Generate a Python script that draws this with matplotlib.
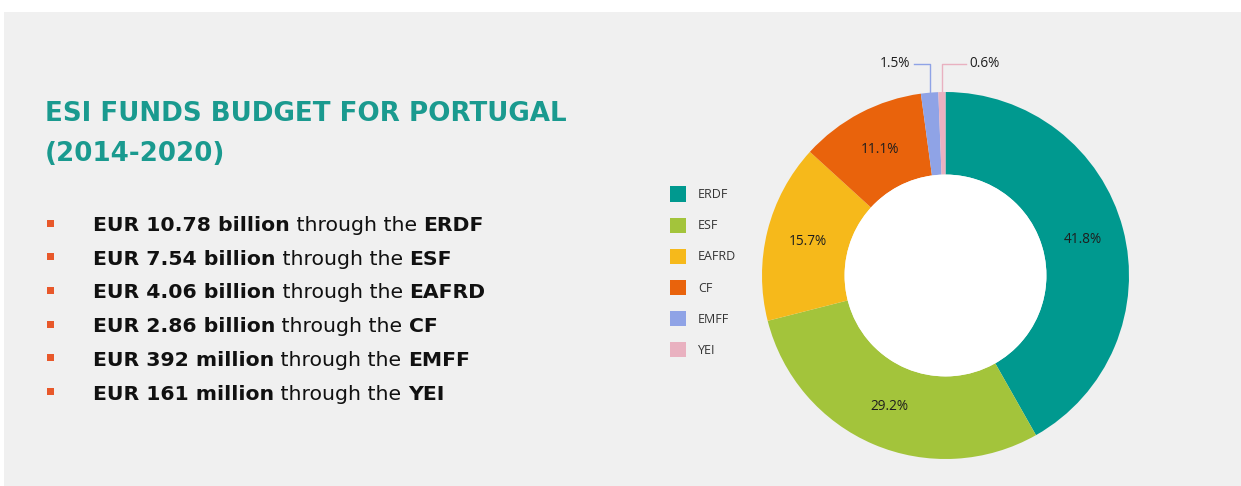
import numpy as np
import matplotlib
matplotlib.use("Agg")
from matplotlib import pyplot as plt
from matplotlib.patches import Rectangle, Circle

# data
funds = ["ERDF", "ESF", "EAFRD", "CF", "EMFF", "YEI"]
amounts = [10.78, 7.54, 4.06, 2.86, 0.392, 0.161]   # EUR billion
amount_text = ["EUR 10.78 billion", "EUR 7.54 billion", "EUR 4.06 billion",
               "EUR 2.86 billion", "EUR 392 million", "EUR 161 million"]
title_lines = ["ESI FUNDS BUDGET FOR PORTUGAL", "(2014-2020)"]

colors = ["#00998f", "#a3c43b", "#f6b91b", "#e9630c", "#8fa3e6", "#e9b1c0"]
teal = "#1a9a8f"
bullet_col = "#e8582a"

W, H = 1241, 486
fig = plt.figure(figsize=(W / 100, H / 100), dpi=100)
fig.patch.set_facecolor("white")

# full figure axes in pixel units for the text block
bg = fig.add_axes([0, 0, 1, 1])
bg.set_xlim(0, W)
bg.set_ylim(H, 0)
bg.axis("off")
bg.add_patch(Rectangle((4, 12), W - 4, H - 12, facecolor="#f0f0f0", edgecolor="none"))

for i, line in enumerate(title_lines):
    bg.text(45, 121 + i * 39.5, line, color=teal, fontsize=18.8, fontweight="bold",
            family="DejaVu Sans", va="baseline", ha="left")

base0 = 231
step = 33.7
for i in range(len(funds)):
    yb = base0 + i * step
    bg.add_patch(Rectangle((46.5, yb - 11.5), 7, 7, facecolor=bullet_col, edgecolor="none"))
    t1 = bg.text(93, yb, amount_text[i], fontsize=14.7, fontweight="bold",
                 family="DejaVu Sans", color="#111111", va="baseline")
    t2 = bg.annotate(" through the ", xy=(1, 0), xycoords=t1, fontsize=14.7,
                     family="DejaVu Sans", color="#111111", va="bottom", ha="left")
    bg.annotate(funds[i], xy=(1, 0), xycoords=t2, fontsize=14.7, fontweight="bold",
                family="DejaVu Sans", color="#111111", va="bottom", ha="left")

# donut
cx, cy, r = 945.5, 275.5, 183.5
ax = fig.add_axes([(cx - r) / W, (H - cy - r) / H, 2 * r / W, 2 * r / H])
hole = 0.55


def fmt(p):
    return "%.1f%%" % p if p > 5 else ""


wedges, texts, autotexts = ax.pie(amounts, colors=colors, startangle=90, counterclock=False,
                                  wedgeprops=dict(width=1 - hole, linewidth=0),
                                  autopct=fmt, pctdistance=0.775,
                                  textprops=dict(fontsize=9.8, family="Open Sans", color="#1e1e1e"))
ax.add_patch(Circle((0, 0), hole, facecolor="white", edgecolor="none"))
ax.set_xlim(-1, 1)
ax.set_ylim(-1, 1)
ax.axis("off")

total = sum(amounts)
for i, w in enumerate(wedges):
    pct = amounts[i] / total * 100
    if pct > 5:
        continue
    ang = np.deg2rad((w.theta1 + w.theta2) / 2)
    x0, y0 = np.cos(ang), np.sin(ang)
    ytop = 1.153
    side = 1 if i == len(wedges) - 1 else -1
    length = 0.13 if side > 0 else 0.087
    x1 = x0 + side * length
    ax.plot([x0, x0, x1], [y0, ytop, ytop], color=colors[i], lw=1, clip_on=False)
    ax.text(x1 + side * 0.02, ytop, "%.1f%%" % pct, fontsize=9.8, family="Open Sans",
            color="#1e1e1e", va="center", ha="left" if side > 0 else "right", clip_on=False)

fig.legend(wedges, funds, loc="upper left", bbox_to_anchor=(670 / W, 1 - 186.5 / H),
           frameon=False, prop=dict(family="Open Sans", size=9),
           handlelength=1.28, handleheight=1.47, handletextpad=0.96, labelspacing=1.29,
           borderpad=0, borderaxespad=0, labelcolor="#333333")

fig.savefig("out.png", dpi=100, facecolor="white")
